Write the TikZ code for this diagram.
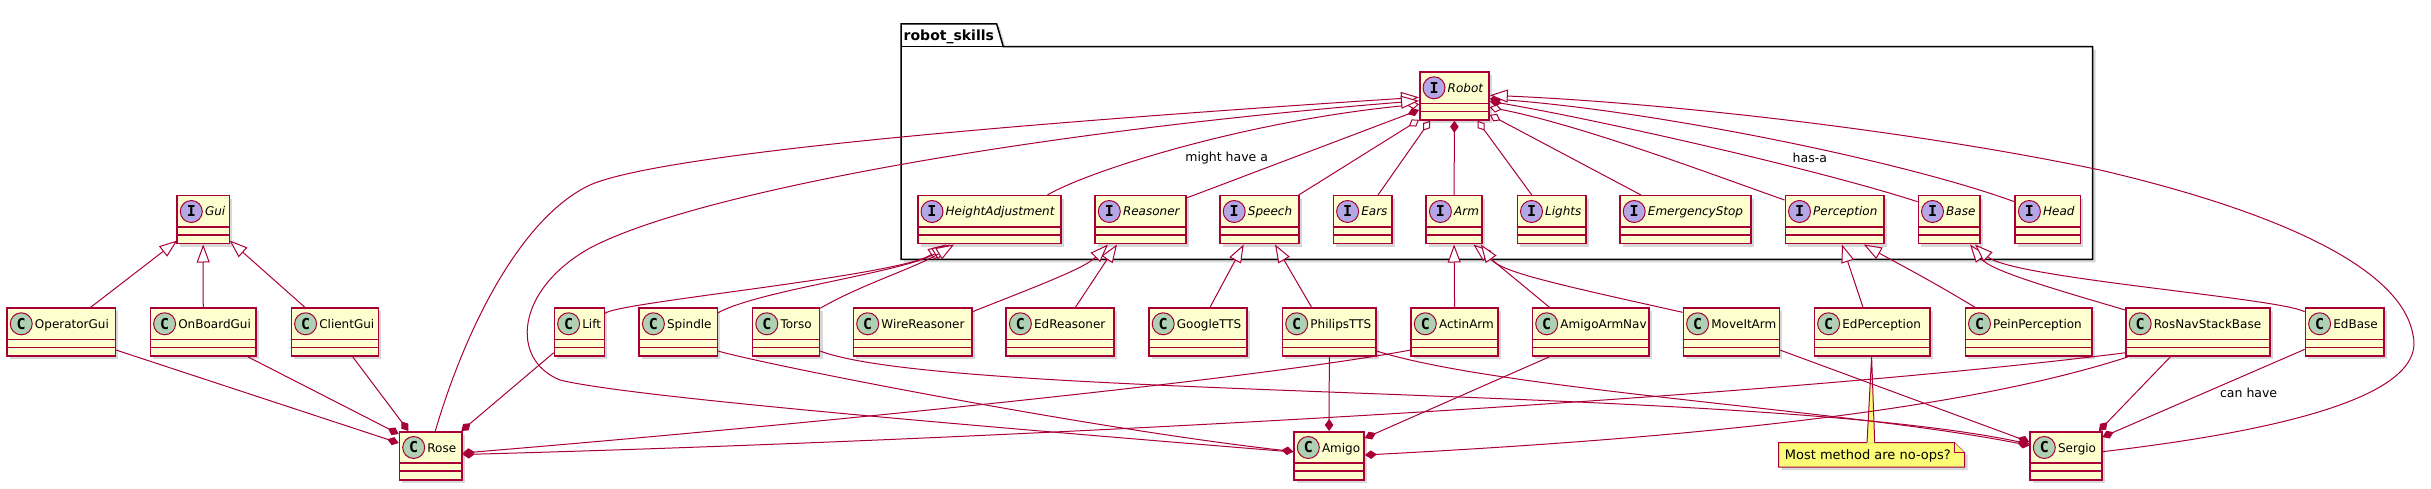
\documentclass[tikz,border=0pt]{standalone}
\usepackage{fontspec}
\setmainfont{DejaVu Sans}
\newfontfamily\circfont{DejaVu Sans Mono}
\usetikzlibrary{arrows.meta,shadows}
\definecolor{umlred}{HTML}{A80036}
\definecolor{umlbg}{HTML}{FEFECE}
\definecolor{umlC}{HTML}{ADD1B2}
\definecolor{umlI}{HTML}{B4A7E5}
\definecolor{umlnote}{HTML}{FBFB77}
\tikzset{
  myshadow/.style={drop shadow={shadow xshift=3pt, shadow yshift=-3pt, opacity=0.22, fill=black!70}},
  boxshape/.style={rectangle, draw=umlred, fill=umlbg, line width=1.5pt, inner sep=0pt, myshadow},
  sepline/.style={draw=umlred, line width=1.5pt},
  circC/.style={circle, draw=umlred, line width=1pt, fill=umlC, minimum size=22pt, inner sep=0pt, font=\circfont\bfseries\fontsize{15}{15}\selectfont},
  circI/.style={circC, fill=umlI},
  txtC/.style={anchor=base west, inner sep=0pt, font=\fontsize{12}{14}\selectfont},
  txtI/.style={anchor=base west, inner sep=0pt, font=\fontsize{12}{14}\selectfont\itshape},
  edge/.style={draw=umlred, line width=1pt},
  inh/.style={edge, -{Triangle[length=18pt,width=13pt,fill=white]}},
  comp/.style={edge, -{Diamond[length=12pt,width=8.5pt]}},
  aggr/.style={edge, -{Diamond[length=12pt,width=8.5pt,fill=white]}},
  elabel/.style={inner sep=0pt, font=\fontsize{12.5}{14}\selectfont},
}
\newcommand{\umlbox}[5]{%
  \node[boxshape, anchor=north west, minimum width={(#4)-(#2)}, minimum height=48pt] (#1) at (#2,#3) {};
  \draw[sepline] ([yshift=-32pt]#1.north west) -- ([yshift=-32pt]#1.north east);
  \draw[sepline] ([yshift=-40pt]#1.north west) -- ([yshift=-40pt]#1.north east);
  \node[circ#5] (#1c) at ([shift={(15pt,-16.5pt)}]#1.north west) {#5};
  \node[txt#5] (#1t) at ([shift={(28.5pt,-21pt)}]#1.north west) {#1};
}
\begin{document}
\begin{tikzpicture}[x=1pt,y=-1pt]
\useasboundingbox (0,0) rectangle (2431,489);
% package
\draw[line width=1.5pt, fill=white, myshadow] (901,24) -- (996.7,24) -- (1003.3,46.7) -- (2092.5,46.7) -- (2092.5,259.3) -- (901,259.3) -- cycle;
\draw[line width=1.5pt] (901,46.7) -- (1003.3,46.7);
\node[anchor=base west, inner sep=0pt, font=\bfseries\fontsize{14}{16}\selectfont] (pkg) at (903.5,40.5) {robot\_skills};
% interfaces
\umlbox{Robot}{1419}{71.3}{1488.3}{I}
\umlbox{Gui}{176.3}{195}{228.6}{I}
\umlbox{HeightAdjustment}{917}{195}{1060}{I}
\umlbox{Reasoner}{1094.3}{195}{1185}{I}
\umlbox{Speech}{1219.2}{195}{1298.2}{I}
\umlbox{Ears}{1332.6}{195}{1391}{I}
\umlbox{Arm}{1425.4}{195}{1481.3}{I}
\umlbox{Lights}{1516.5}{195}{1585.3}{I}
\umlbox{EmergencyStop}{1619.2}{195}{1750.4}{I}
\umlbox{Perception}{1784.5}{195}{1883.4}{I}
\umlbox{Base}{1917.5}{195}{1979.2}{I}
\umlbox{Head}{2014.4}{195}{2079.6}{I}
% classes
\umlbox{OperatorGui}{6.25}{307.3}{114.7}{C}
\umlbox{OnBoardGui}{149.6}{307.3}{255.4}{C}
\umlbox{ClientGui}{290.6}{307.3}{377.7}{C}
\umlbox{Lift}{553.6}{307.3}{603.6}{C}
\umlbox{Spindle}{638.4}{307.3}{716.5}{C}
\umlbox{Torso}{751.8}{307.3}{818.75}{C}
\umlbox{WireReasoner}{852.7}{307.3}{971}{C}
\umlbox{EdReasoner}{1005.4}{307.3}{1113.4}{C}
\umlbox{GoogleTTS}{1148.2}{307.3}{1246.4}{C}
\umlbox{PhilipsTTS}{1281.7}{307.3}{1375.4}{C}
\umlbox{ActinArm}{1410.3}{307.3}{1497.3}{C}
\umlbox{AmigoArmNav}{1531.7}{307.3}{1648.2}{C}
\umlbox{MoveItArm}{1682.6}{307.3}{1778.6}{C}
\umlbox{EdPerception}{1813.6}{307.3}{1929}{C}
\umlbox{PeinPerception}{1964.5}{307.3}{2091}{C}
\umlbox{RosNavStackBase}{2125.2}{307.3}{2269}{C}
\umlbox{EdBase}{2304.6}{307.3}{2383.2}{C}
\umlbox{Rose}{398.7}{431}{461.2}{C}
\umlbox{Amigo}{1293.3}{431}{1363.4}{C}
\umlbox{Sergio}{2029.3}{431}{2101}{C}
% note
\node[anchor=north west, minimum width=185.4pt, minimum height=24pt, inner sep=0pt] (note) at (1778.7,442.7) {};
\filldraw[draw=umlred, fill=umlnote, line width=1pt, myshadow] (note.north west) -- ([xshift=-10pt]note.north east) -- ([yshift=-10pt]note.north east) -- (note.south east) -- (note.south west) -- cycle;
\draw[draw=umlred, fill=umlnote, line width=1pt] ([xshift=-10pt]note.north east) -- ([shift={(-10pt,-10pt)}]note.north east) -- ([yshift=-10pt]note.north east);
\node[anchor=base west, inner sep=0pt, font=\fontsize{13}{15}\selectfont] (notetext) at ([shift={(6,17)}]note.north west) {Most method are no-ops?};
\fill[umlnote] ([shift={(58,0)}]EdPerception.south west) -- ([shift={(96,1)}]note.north west) -- ([shift={(88.3,1)}]note.north west) -- cycle;
\draw[umlred, line width=1pt] ([shift={(96,0)}]note.north west) -- ([shift={(58,0)}]EdPerception.south west) -- ([shift={(88.3,0)}]note.north west);
% Gui inheritance
\draw[inh] ([shift={(84.4,0)}]OperatorGui.north west) -- ([shift={(1,-4)}]Gui.south west);
\draw[inh] (OnBoardGui.north) -- (Gui.south);
\draw[inh] ([shift={(14.3,0)}]ClientGui.north west) -- ([shift={(-0.5,-4)}]Gui.south east);
% Rose
\draw[comp] ([shift={(0,-6.7)}]OperatorGui.south east) -- ([shift={(0,12)}]Rose.north west);
\draw[comp] ([shift={(98.2,0)}]OnBoardGui.south west) -- ([shift={(0,3)}]Rose.north west);
\draw[comp] ([shift={(62.1,0)}]ClientGui.south west) -- ([shift={(9.8,0)}]Rose.north west);
\draw[comp] ([shift={(0,-4)}]Lift.south west) -- ([shift={(-1.4,0)}]Rose.north east);
\draw[comp] ([shift={(0,-6.7)}]ActinArm.south west) .. controls (1250,380) and (800,425) .. ([shift={(0,22)}]Rose.north east);
\draw[comp] ([shift={(0,-4)}]RosNavStackBase.south west) .. controls (1750,400) and (1000,440) .. ([shift={(0,23.5)}]Rose.north east);
% Amigo
\draw[comp] (PhilipsTTS.south) -- (Amigo.north);
\draw[comp] ([shift={(17.8,0)}]AmigoArmNav.south west) -- ([shift={(0,7)}]Amigo.north east);
\draw[comp] ([shift={(3,0)}]RosNavStackBase.south west) .. controls (1950,415) and (1650,440) .. ([shift={(0,24)}]Amigo.north east);
\draw[comp] ([shift={(0,-5.7)}]Spindle.south east) .. controls (780,368) and (1100,430) .. ([shift={(0,20.5)}]Amigo.north west);
% Sergio
\draw[comp] ([shift={(0,-5.7)}]Torso.south east) .. controls (950,400) and (1750,385) .. ([shift={(0,13)}]Sergio.north west);
\draw[comp] ([shift={(0,-5.7)}]PhilipsTTS.south east) .. controls (1500,390) and (1850,410) .. ([shift={(0,14.5)}]Sergio.north west);
\draw[comp] ([shift={(0,-6.7)}]MoveItArm.south east) -- ([shift={(0,11)}]Sergio.north west);
\draw[comp] ([shift={(45.2,0)}]RosNavStackBase.south west) -- ([shift={(-3.6,0)}]Sergio.north east);
\draw[comp] ([shift={(0,-7.4)}]EdBase.south west) -- ([shift={(0,6)}]Sergio.north east);
\node[elabel] (lblcan) at (2248.6,393.3) {can have};
% HeightAdjustment
\draw[inh] ([shift={(0,6)}]Lift.north east) .. controls (618,302) and (900,276) .. ([shift={(29,0)}]HeightAdjustment.south west);
\draw[inh] ([shift={(0,5.4)}]Spindle.north east) .. controls (760,290) and (905,272) .. ([shift={(33,0)}]HeightAdjustment.south west);
\draw[inh] ([shift={(0,1)}]Torso.north east) .. controls (860,285) and (915,268) .. ([shift={(37,0)}]HeightAdjustment.south west);
% Reasoner
\draw[inh] ([shift={(0,4.4)}]WireReasoner.north east) .. controls (1040,285) and (1085,268) .. ([shift={(13.7,0)}]Reasoner.south west);
\draw[inh] ([shift={(70,0)}]EdReasoner.north west) -- ([shift={(22.7,0)}]Reasoner.south west);
% Speech
\draw[inh] ([shift={(61.8,0)}]GoogleTTS.north west) -- ([shift={(24.5,0)}]Speech.south west);
\draw[inh] ([shift={(29.9,0)}]PhilipsTTS.north west) -- ([shift={(55.8,0)}]Speech.south west);
% Arm
\draw[inh] (ActinArm.north) -- (Arm.south);
\draw[inh] ([shift={(17.8,0)}]AmigoArmNav.north west) -- ([shift={(48,0)}]Arm.south west);
\draw[inh] ([shift={(0,5)}]MoveItArm.north west) .. controls (1560,285) and (1500,272) .. ([shift={(-2,0)}]Arm.south east);
% Perception
\draw[inh] ([shift={(49.4,0)}]EdPerception.north west) -- ([shift={(57.5,0)}]Perception.south west);
\draw[inh] ([shift={(10.5,0)}]PeinPerception.north west) .. controls (1930,280) and (1895,262) .. ([shift={(79.3,0)}]Perception.south west);
% Base
\draw[inh] ([shift={(0,2.7)}]RosNavStackBase.north west) .. controls (2040,285) and (1990,270) .. ([shift={(52.5,0)}]Base.south west);
\draw[inh] ([shift={(0,4.4)}]EdBase.north west) .. controls (2280,298) and (2010,278) .. ([shift={(57.5,0)}]Base.south west);
% Robot parts
\draw[aggr] ([shift={(130.4,0)}]HeightAdjustment.north west) .. controls (1090,170) and (1250,120) .. ([shift={(0,33)}]Robot.north west);
\node[elabel] (lblmight) at (1226.7,157.7) {might have a};
\draw[comp] ([shift={(0,3)}]Reasoner.north east) -- ([shift={(0,38.7)}]Robot.north west);
\draw[aggr] ([shift={(-1,0)}]Speech.north east) -- ([shift={(0,-1)}]Robot.south west);
\draw[aggr] ([shift={(45.4,0)}]Ears.north west) -- ([shift={(11,0)}]Robot.south west);
\draw[comp] (Arm.north) -- (Robot.south);
\draw[aggr] ([shift={(15.3,0)}]Lights.north west) -- ([shift={(-12.3,0)}]Robot.south east);
\draw[aggr] ([shift={(21.8,0)}]EmergencyStop.north west) -- ([shift={(0,-6)}]Robot.south east);
\draw[aggr] ([shift={(0,5)}]Perception.north west) .. controls (1700,170) and (1580,125) .. ([shift={(0,36)}]Robot.north east);
\draw[comp] ([shift={(0,6.7)}]Base.north west) .. controls (1820,170) and (1600,120) .. ([shift={(0,30)}]Robot.north east);
\draw[comp] ([shift={(0,6.7)}]Head.north west) .. controls (1900,160) and (1650,110) .. ([shift={(0,27.5)}]Robot.north east);
\node[elabel] (lblhas) at (1809.8,157.7) {has-a};
% robots realise Robot
\draw[inh] ([shift={(36.6,0)}]Rose.north west) .. controls (465,330) and (520,218) .. (590,185) .. controls (670,150) and (1100,118) .. ([shift={(0,26)}]Robot.north west);
\draw[inh] ([shift={(0,21)}]Amigo.north west) .. controls (900,420) and (620,395) .. (560,380) .. controls (510,360) and (515,290) .. (590,248) .. controls (700,190) and (1050,130) .. ([shift={(0,29.5)}]Robot.north west);
\draw[inh] ([shift={(0,20.7)}]Sergio.north east) .. controls (2330,425) and (2425,385) .. (2413,335) .. controls (2400,260) and (2250,205) .. (2100,170) .. controls (1900,128) and (1650,102) .. ([shift={(0,24)}]Robot.north east);
\end{tikzpicture}
\end{document}
